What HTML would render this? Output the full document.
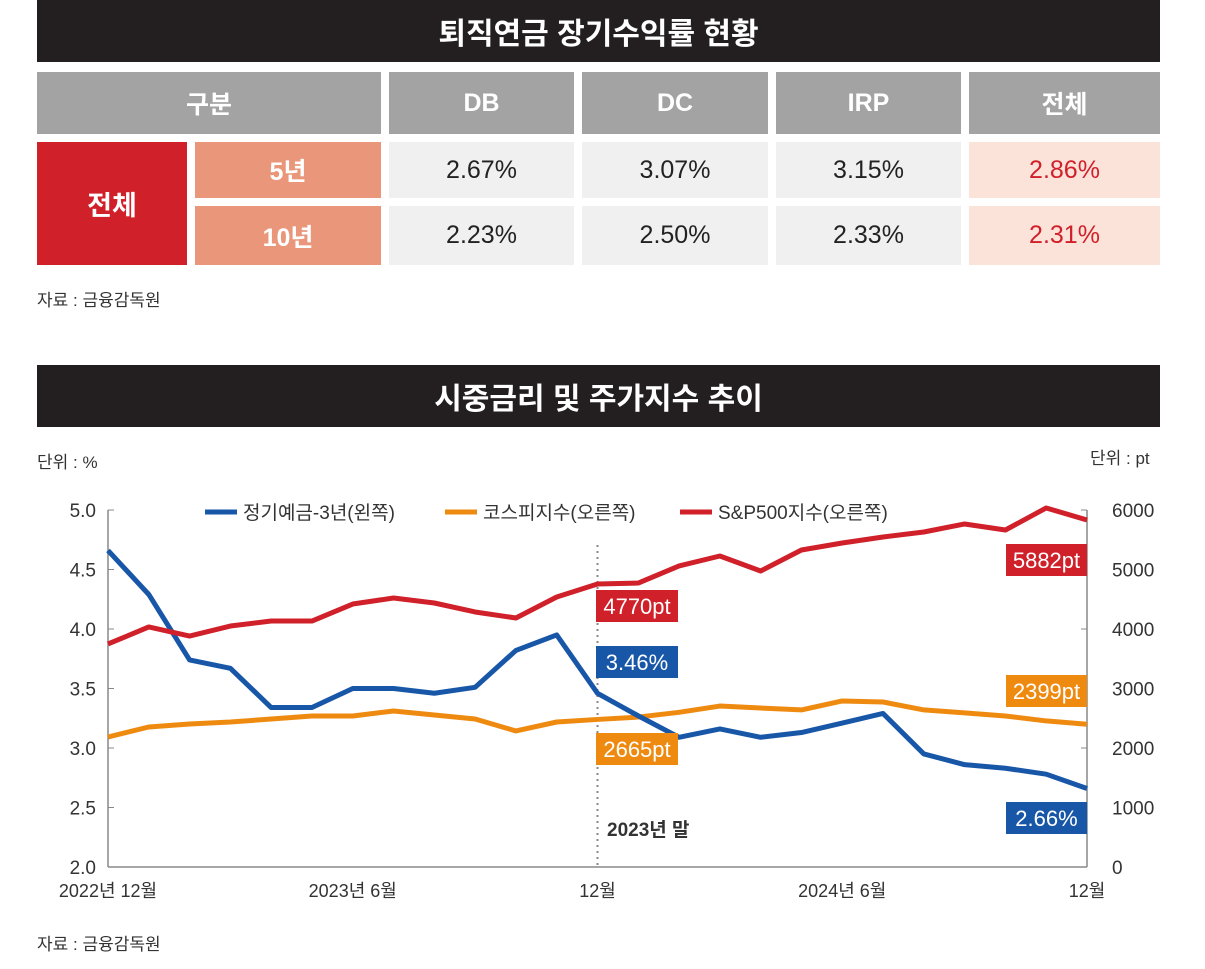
<!DOCTYPE html>
<html><head><meta charset="utf-8"><style>
body{margin:0;width:1205px;height:969px;background:#fff;font-family:"Liberation Sans","Noto Sans CJK KR",sans-serif;position:relative;overflow:hidden}
.a{position:absolute;box-sizing:border-box;display:flex;align-items:center;justify-content:center}
.bar{background:#231f20;color:#fff;font-weight:bold;font-size:30px}
.h{background:#a3a3a3;color:#fff;font-size:25px;font-weight:bold}
.v{background:#f0f0f0;color:#222;font-size:25px}
.t{background:#fbe3da;color:#d0202a;font-size:25px}
.s{background:#e9967a;color:#fff;font-size:25px;font-weight:bold}
.src{position:absolute;font-size:17px;color:#333}
</style></head><body>
<div class="a bar" style="left:37px;top:0;width:1123px;height:62px">퇴직연금 장기수익률 현황</div>
<div class="a h" style="left:37px;top:72px;width:344px;height:62px">구분</div>
<div class="a h" style="left:389px;top:72px;width:185px;height:62px">DB</div>
<div class="a h" style="left:582px;top:72px;width:186px;height:62px">DC</div>
<div class="a h" style="left:776px;top:72px;width:185px;height:62px">IRP</div>
<div class="a h" style="left:969px;top:72px;width:191px;height:62px">전체</div>
<div class="a" style="left:37px;top:142px;width:150px;height:123px;background:#d0202a;color:#fff;font-size:27px;font-weight:bold">전체</div>
<div class="a s" style="left:195px;top:142px;width:186px;height:56px">5년</div>
<div class="a s" style="left:195px;top:206px;width:186px;height:59px">10년</div>
<div class="a v" style="left:389px;top:142px;width:185px;height:56px">2.67%</div>
<div class="a v" style="left:582px;top:142px;width:186px;height:56px">3.07%</div>
<div class="a v" style="left:776px;top:142px;width:185px;height:56px">3.15%</div>
<div class="a t" style="left:969px;top:142px;width:191px;height:56px">2.86%</div>
<div class="a v" style="left:389px;top:206px;width:185px;height:59px">2.23%</div>
<div class="a v" style="left:582px;top:206px;width:186px;height:59px">2.50%</div>
<div class="a v" style="left:776px;top:206px;width:185px;height:59px">2.33%</div>
<div class="a t" style="left:969px;top:206px;width:191px;height:59px">2.31%</div>
<div class="src" style="left:37px;top:286px">자료 : 금융감독원</div>
<div class="a bar" style="left:37px;top:365px;width:1123px;height:62px">시중금리 및 주가지수 추이</div>
<div class="src" style="left:37px;top:448px">단위 : %</div>
<div class="src" style="left:1090px;top:444px">단위 : pt</div>
<div class="src" style="left:37px;top:930px">자료 : 금융감독원</div>
<svg id="c" width="1205" height="969" style="position:absolute;left:0;top:0"></svg>
<script>
const months=["2022-12","2023-01","2023-02","2023-03","2023-04","2023-05","2023-06","2023-07","2023-08","2023-09","2023-10","2023-11","2023-12","2024-01","2024-02","2024-03","2024-04","2024-05","2024-06","2024-07","2024-08","2024-09","2024-10","2024-11","2024-12"];
const deposit=[4.66,4.29,3.74,3.67,3.34,3.34,3.50,3.50,3.46,3.51,3.82,3.95,3.46,3.27,3.09,3.16,3.09,3.13,3.21,3.29,2.95,2.86,2.83,2.78,2.66];
const kospi=[2185,2353,2403,2437,2487,2538,2538,2622,2555,2487,2286,2437,2480,2520,2600,2705,2672,2640,2790,2773,2640,2590,2538,2455,2400];
const sp500=[3748,4034,3882,4050,4134,4134,4420,4521,4437,4286,4185,4538,4756,4773,5059,5227,4975,5328,5445,5546,5630,5765,5664,6034,5832];
const leftTicks=["2.0","2.5","3.0","3.5","4.0","4.5","5.0"];
const rightTicks=["0","1000","2000","3000","4000","5000","6000"];
const xLabels=[["2022년 12월",0],["2023년 6월",6],["12월",12],["2024년 6월",18],["12월",24]];
const svg=document.getElementById('c');const NS="http://www.w3.org/2000/svg";
const X0=108,X1=1087,YT=510,YB=867;
const x=i=>X0+(X1-X0)*i/(months.length-1);
const yl=v=>YB-(v-2)/3*(YB-YT);
const yr=v=>YB-v/6000*(YB-YT);
function el(t,a,txt){const e=document.createElementNS(NS,t);for(const k in a)e.setAttribute(k,a[k]);if(txt!=null)e.textContent=txt;svg.appendChild(e);return e;}
let e=el('line',{x1:X0,y1:YT,x2:X0,y2:YB,stroke:'#888','stroke-width':1.5});

e=el('line',{x1:X1,y1:YT,x2:X1,y2:YB,stroke:'#888','stroke-width':1.5});

e=el('line',{x1:X0,y1:YB,x2:X1,y2:YB,stroke:'#888','stroke-width':1.5});

leftTicks.forEach(t=>{const y=yl(+t);
 e=el('text',{x:96,y:y+7,'text-anchor':'end','font-size':19,fill:'#333'},t);
 
 e=el('line',{x1:X0,y1:y,x2:X0+6,y2:y,stroke:'#888'});
 });
rightTicks.forEach(t=>{const y=yr(+t);
 e=el('text',{x:1112,y:y+7,'font-size':19,fill:'#333'},t);
 
 e=el('line',{x1:X1-6,y1:y,x2:X1,y2:y,stroke:'#888'});
 });
xLabels.forEach(([t,i])=>{
 e=el('text',{x:x(i),y:897,'text-anchor':'middle','font-size':18,fill:'#333'},t);
 });
e=el('line',{x1:x(12),y1:545,x2:x(12),y2:YB,stroke:'#888','stroke-width':2,'stroke-dasharray':'2 4'});

e=el('text',{x:607,y:836,'font-size':19,'font-weight':'bold',fill:'#333'},'2023년 말');

function line(d,f,c,n){e=el('polyline',{points:d.map((v,i)=>x(i)+','+f(v)).join(' '),fill:'none',stroke:c,'stroke-width':5,'stroke-linejoin':'round'});
 }
line(kospi,yr,'#ef8a11','kospi-line');
line(deposit,yl,'#1857a8','deposit-line');
line(sp500,yr,'#d0202a','sp500-line');
function box(bx,by,w,t,c,n){e=el('rect',{x:bx,y:by,width:w,height:32,fill:c});
 
 e=el('text',{x:bx+w/2,y:by+24,'text-anchor':'middle','font-size':22,fill:'#fff'},t);
 }
box(596,590,82,'4770pt','#d0202a','sp500-2023-label');
box(596,646,82,'3.46%','#1857a8','deposit-2023-label');
box(596,733,82,'2665pt','#ef8a11','kospi-2023-label');
box(1006,544,81,'5882pt','#d0202a','sp500-2024-label');
box(1006,675,81,'2399pt','#ef8a11','kospi-2024-label');
box(1006,802,81,'2.66%','#1857a8','deposit-2024-label');
[["정기예금-3년(왼쪽)",'#1857a8',205],["코스피지수(오른쪽)",'#ef8a11',445],["S&P500지수(오른쪽)",'#d0202a',680]].forEach(([t,c,lx])=>{
 e=el('line',{x1:lx,y1:512,x2:lx+32,y2:512,stroke:c,'stroke-width':5});
 
 e=el('text',{x:lx+38,y:519,'font-size':19,fill:'#333'},t);
 });
</script>
</body></html>
